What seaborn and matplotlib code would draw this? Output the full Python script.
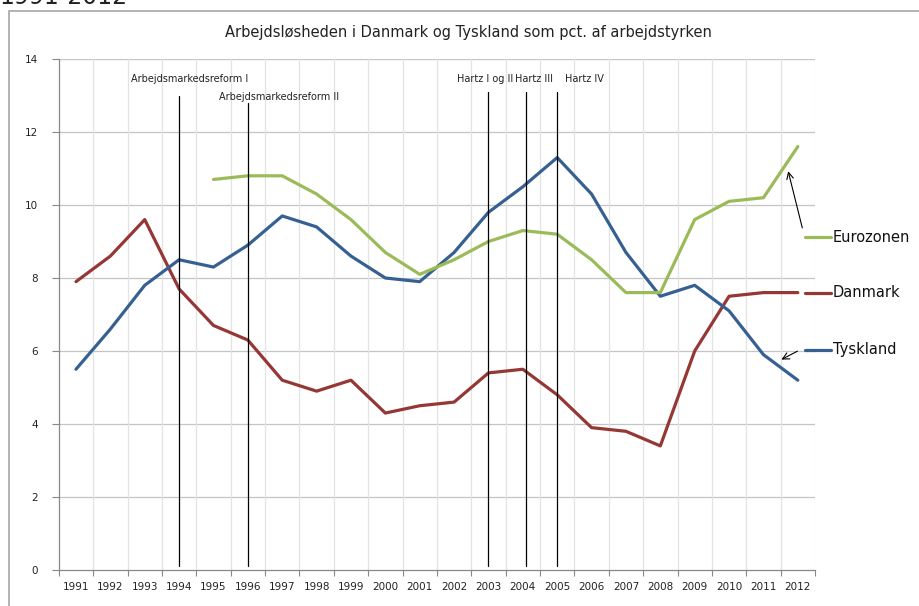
import numpy as np
import pandas as pd
import matplotlib
matplotlib.use("Agg")
import matplotlib.pyplot as plt
import seaborn as sns
from matplotlib.ticker import MultipleLocator, FixedLocator

years = list(range(1991, 2013))
danmark = [7.9, 8.6, 9.6, 7.7, 6.7, 6.3, 5.2, 4.9, 5.2, 4.3, 4.5, 4.6, 5.4, 5.5, 4.8, 3.9, 3.8, 3.4, 6.0, 7.5, 7.6, 7.6]
tyskland = [5.5, 6.6, 7.8, 8.5, 8.3, 8.9, 9.7, 9.4, 8.6, 8.0, 7.9, 8.7, 9.8, 10.5, 11.3, 10.3, 8.7, 7.5, 7.8, 7.1, 5.9, 5.2]
euro_years = list(range(1995, 2013))
eurozonen = [10.7, 10.8, 10.8, 10.3, 9.6, 8.7, 8.1, 8.5, 9.0, 9.3, 9.2, 8.5, 7.6, 7.6, 9.6, 10.1, 10.2, 11.6]

reform_labels = ["Arbejdsmarkedsreform I", "Arbejdsmarkedsreform II", "Hartz I og II", "Hartz III", "Hartz IV"]
reform_years = [1994, 1996, 2003, 2004.1, 2005]

title = "Arbejdsløsheden i Danmark og Tyskland som pct. af arbejdstyrken"

colors = {"Danmark": "#953735", "Tyskland": "#376092", "Eurozonen": "#9BBB59"}

df = pd.concat([
    pd.DataFrame({"År": years, "Ledighed": danmark, "Serie": "Danmark"}),
    pd.DataFrame({"År": years, "Ledighed": tyskland, "Serie": "Tyskland"}),
    pd.DataFrame({"År": euro_years, "Ledighed": eurozonen, "Serie": "Eurozonen"}),
], ignore_index=True)

sns.set_theme(style="white")
plt.rcParams['font.family'] = ['DejaVu Sans']

W, H = 919, 606
fig = plt.figure(figsize=(W / 100, H / 100), dpi=100)
fig.patch.set_facecolor("white")

def fx(px):
    return px / W

def fy(py):
    return 1 - py / H

# outer chart frame
frame = plt.Rectangle((fx(9), fy(700)), 1.5, fy(10.5) - fy(700), transform=fig.transFigure,
                      fill=False, edgecolor="#a6a6a6", linewidth=1.2)
fig.patches.append(frame)

# heading above the chart, cut off at the top edge as in the reference
fig.text(fx(-1), fy(3.5), "1991-2012", fontsize=17, ha="left", va="baseline", color="#222222")

ax = fig.add_axes([fx(58.8), fy(570), fx(815) - fx(58.8), fy(59) - fy(570)])

sns.lineplot(data=df, x="År", y="Ledighed", hue="Serie", palette=colors, linewidth=2.3,
             legend=False, ax=ax, zorder=3)

ax.set_xlim(1990.5, 2012.5)
ax.set_ylim(0, 14)
ax.set_xlabel("")
ax.set_ylabel("")

ax.set_xticks(years)
ax.set_xticklabels([str(y) for y in years], fontsize=7.5, color="#222222")
ax.xaxis.set_minor_locator(FixedLocator([y - 0.5 for y in years] + [2012.5]))
ax.tick_params(axis="x", which="major", length=0, pad=9)
ax.tick_params(axis="x", which="minor", length=4, width=0.8, color="#888888", direction="out", bottom=True)
ax.yaxis.set_major_locator(MultipleLocator(2))
ax.tick_params(axis="y", which="major", length=5, width=0.8, color="#888888", direction="out", left=True,
               labelsize=7.5, labelcolor="#222222", pad=10)

ax.grid(False)
for yv in range(2, 15, 2):
    ax.axhline(yv, color="#c4c4c4", linewidth=0.9, zorder=0)
for xv in [y + 0.5 for y in years]:
    ax.axvline(xv, color="#e3e3e3", linewidth=0.9, zorder=0)

for s in ["top", "right"]:
    ax.spines[s].set_visible(False)
for s in ["left", "bottom"]:
    ax.spines[s].set_color("#888888")
    ax.spines[s].set_linewidth(0.9)

# reform lines and labels
line_tops = [13.0, 12.8, 13.1, 13.1, 13.1]
label_pos = [(1994.3, 13.45), (1996.9, 12.95), (2002.9, 13.45), (2004.33, 13.45), (2005.8, 13.45)]
for yr, top, lab, (lx, ly) in zip(reform_years, line_tops, reform_labels, label_pos):
    ax.plot([yr, yr], [0.1, top], color="black", linewidth=0.9, zorder=4)
    ax.text(lx, ly, lab, fontsize=7, ha="center", va="center", color="#222222")

# right-side labels
right_labels = [("Eurozonen", 9.12), ("Danmark", 7.6), ("Tyskland", 6.03)]
for name, yv in right_labels:
    ax.plot([2012.2, 2012.96], [yv, yv], color=colors[name], linewidth=2.3, clip_on=False, zorder=3)
    ax.text(2013.02, yv, name, fontsize=10.5, ha="left", va="center", color="#111111", clip_on=False)

ax.annotate("", xy=(2011.7, 11.0), xytext=(2012.15, 9.3),
            arrowprops=dict(arrowstyle="->", color="black", linewidth=0.8), annotation_clip=False)
ax.annotate("", xy=(2011.45, 5.73), xytext=(2012.06, 6.03),
            arrowprops=dict(arrowstyle="->", color="black", linewidth=0.8), annotation_clip=False)

fig.text(fx(468), fy(33), title, fontsize=10.5, ha="center", va="center", color="#222222")

fig.savefig("out.png", dpi=100)
